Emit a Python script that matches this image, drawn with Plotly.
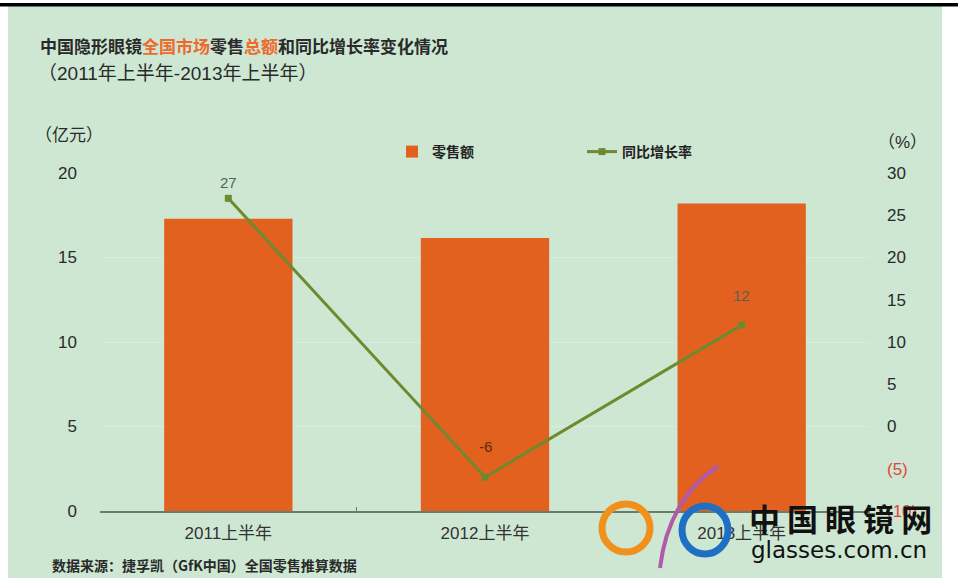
import plotly.graph_objects as go

# Data
periods = ["2011上半年", "2012上半年", "2013上半年"]
retail_sales = [17.3, 16.15, 18.2]          # 亿元
yoy_growth = [27, -6, 12]                   # %
right_tick_vals = [30, 25, 20, 15, 10, 5, 0, -5, -10]
right_tick_text = ["30", "25", "20", "15", "10", "5", "0",
                   "<span style='color:#e0463c'>(5)</span>",
                   "<span style='color:#e0463c'>(10)</span>"]

BG = "#cde7d3"
ORANGE = "#e2611f"
OLIVE = "#6f8a2e"
CJK = "Noto Sans CJK SC"
LATIN = "Liberation Sans"
MIXED = "Liberation Sans, Noto Sans CJK SC"

W, H = 958, 578
L, R, T, B = 100, 870, 173, 511


def px(x, y):
    """Pixel position -> paper coordinates of the plot area."""
    return (x - L) / (R - L), (B - y) / (B - T)


fig = go.Figure()

fig.add_trace(go.Bar(
    x=periods, y=retail_sales, name="零售额",
    marker=dict(color=ORANGE, line=dict(width=0)),
    width=0.5, yaxis="y",
))

fig.add_trace(go.Scatter(
    x=periods, y=yoy_growth, name="同比增长率",
    mode="lines+markers",
    line=dict(color=OLIVE, width=3),
    marker=dict(symbol="square", size=7, color=OLIVE),
    yaxis="y2",
))

annotations = []

# Growth-rate value labels
label_shift = [16, 31, 30]
label_color = ["#55625a", "#5a2a12", "#55625a"]
for p, v, s, c in zip(periods, yoy_growth, label_shift, label_color):
    annotations.append(dict(
        x=p, y=v, xref="x", yref="y2", yshift=s, showarrow=False,
        text=str(v), font=dict(family=LATIN, size=15, color=c),
    ))

# Title lines
tx, ty = px(38, 45)
annotations.append(dict(
    x=tx, y=ty, xref="paper", yref="paper", xanchor="left", yanchor="middle",
    showarrow=False,
    text="<b>中国隐形眼镜<span style='color:#ee6a2c'>全国市场</span>零售"
         "<span style='color:#ee6a2c'>总额</span>和同比增长率变化情况</b>",
    font=dict(family=CJK, size=17, color="#2a2a2a"),
))
sx, sy = px(36, 73)
annotations.append(dict(
    x=sx, y=sy, xref="paper", yref="paper", xanchor="left", yanchor="middle",
    showarrow=False, text="（2011年上半年-2013年上半年）",
    font=dict(family=MIXED, size=19, color="#2a2a2a"),
))

# Axis unit labels
ux, uy = px(33, 133)
annotations.append(dict(
    x=ux, y=uy, xref="paper", yref="paper", xanchor="left", yanchor="middle",
    showarrow=False, text="（亿元）",
    font=dict(family=CJK, size=17, color="#2a2a2a"),
))
pcx, pcy = px(876, 142)
annotations.append(dict(
    x=pcx, y=pcy, xref="paper", yref="paper", xanchor="left", yanchor="middle",
    showarrow=False, text="（%）",
    font=dict(family=MIXED, size=17, color="#2a2a2a"),
))

# Source note
nx, ny = px(50, 565)
annotations.append(dict(
    x=nx, y=ny, xref="paper", yref="paper", xanchor="left", yanchor="middle",
    showarrow=False, text="<b>数据来源：捷孚凯（GfK中国）全国零售推算数据</b>",
    font=dict(family=CJK, size=14, color="#2a2a2a"),
))

# Site mark
mx, my = px(840, 517)
annotations.append(dict(
    x=mx, y=my, xref="paper", yref="paper", xanchor="center", yanchor="middle",
    showarrow=False, text="<b>中 国 眼 镜 网</b>",
    font=dict(family=CJK, size=31, color="#111111"),
))
gx, gy = px(839, 550)
annotations.append(dict(
    x=gx, y=gy, xref="paper", yref="paper", xanchor="center", yanchor="middle",
    showarrow=False, text="glasses.com.cn",
    font=dict(family="DejaVu Sans", size=23, color="#111111"),
))

shapes = [
    # green panel and frame strips
    dict(type="rect", xref="paper", yref="paper", layer="below",
         x0=px(8, 0)[0], x1=px(942, 0)[0], y0=px(0, 6)[1], y1=px(0, 578)[1],
         fillcolor=BG, line=dict(width=0)),
    dict(type="rect", xref="paper", yref="paper", layer="below",
         x0=px(0, 0)[0], x1=px(958, 0)[0], y0=px(0, 3)[1], y1=px(0, 6.5)[1],
         fillcolor="#000000", line=dict(width=0)),
    # logo rings
    dict(type="circle", xref="paper", yref="paper", layer="above",
         x0=px(602, 0)[0], x1=px(650, 0)[0], y0=px(0, 504)[1], y1=px(0, 552)[1],
         line=dict(color="#f2901c", width=7)),
    dict(type="circle", xref="paper", yref="paper", layer="above",
         x0=px(682, 0)[0], x1=px(728, 0)[0], y0=px(0, 506)[1], y1=px(0, 554)[1],
         line=dict(color="#1f6fc4", width=7)),
]
# purple swoosh
p0 = px(718, 466)
p1 = px(668, 500)
p2 = px(660, 568)
shapes.append(dict(
    type="path", xref="paper", yref="paper", layer="above",
    path=f"M {p0[0]},{p0[1]} Q {p1[0]},{p1[1]} {p2[0]},{p2[1]}",
    line=dict(color="#b05aa8", width=4),
))

fig.update_layout(
    width=W, height=H,
    margin=dict(l=L, r=W - R, t=T, b=H - B, pad=0),
    paper_bgcolor="#ffffff",
    plot_bgcolor="rgba(0,0,0,0)",
    showlegend=True,
    legend=dict(
        orientation="h", x=px(392, 0)[0], y=px(0, 152)[1],
        xanchor="left", yanchor="middle",
        entrywidth=145, entrywidthmode="pixels", itemwidth=30,
        font=dict(family=CJK, size=14, color="#222222", weight="bold"),
        bgcolor="rgba(0,0,0,0)",
    ),
    bargap=0.5,
    xaxis=dict(
        showline=True, linecolor="#6c7a6f", linewidth=2,
        ticks="inside", ticklen=4, tickcolor="#6c7a6f", tickson="boundaries",
        tickfont=dict(family=MIXED, size=17, color="#333333"),
        ticklabelstandoff=6,
        showgrid=False, zeroline=False,
    ),
    yaxis=dict(
        range=[0, 20], tickvals=[0, 5, 10, 15, 20],
        tickfont=dict(family=LATIN, size=17, color="#2a2a2a"),
        ticklabelstandoff=22,
        showgrid=True, gridcolor="rgba(255,255,255,0.22)", gridwidth=1,
        zeroline=False, showline=False,
    ),
    yaxis2=dict(
        range=[-10, 30], overlaying="y", side="right",
        tickvals=right_tick_vals, ticktext=right_tick_text,
        tickfont=dict(family=LATIN, size=17, color="#2a2a2a"),
        ticklabelstandoff=16,
        showgrid=False, zeroline=False, showline=False,
    ),
    annotations=annotations,
    shapes=shapes,
)

fig.write_html("out.html")
